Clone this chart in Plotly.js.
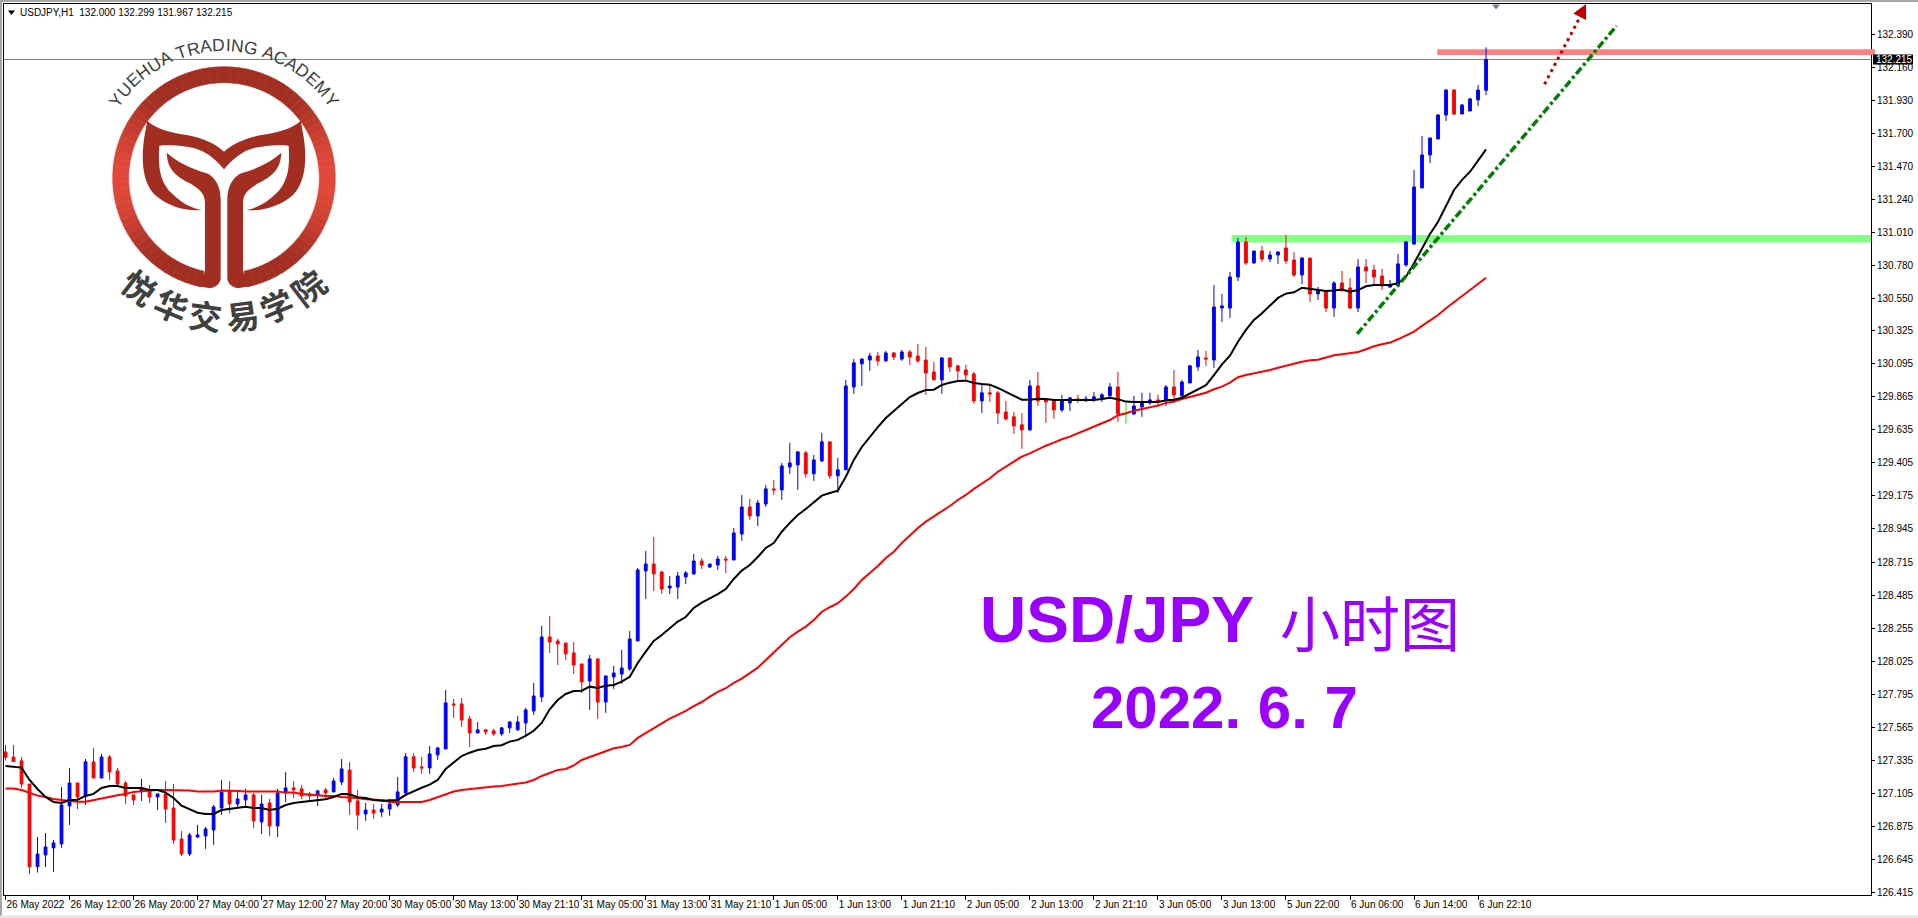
<!DOCTYPE html>
<html>
<head>
<meta charset="utf-8">
<title>USD/JPY H1</title>
<script src="https://cdn.plot.ly/plotly-3.0.1.min.js"></script>
<style>
  html, body { margin: 0; padding: 0; background: #fff; }
  #chart { width: 1918px; height: 918px; }
</style>
</head>
<body>
<div id="chart"></div>
<script>
/* ── Candles, 26 May - 6 Jun 2022, one per hour ─────────────────────── */
const openPrices = [
  127.392,127.357,127.330,127.169,126.594,126.675,126.724,126.752,127.016,127.176,
  127.086,127.323,127.211,127.357,127.260,127.176,127.093,127.114,127.128,127.079,
  127.100,127.002,126.786,126.682,126.800,126.807,126.849,127.002,127.121,127.030,
  127.058,127.093,126.905,127.037,126.877,127.107,127.142,127.135,127.100,127.093,
  127.128,127.114,127.183,127.267,127.051,126.960,126.988,126.974,126.995,127.023,
  127.107,127.358,127.288,127.281,127.372,127.413,127.727,127.727,127.622,127.525,
  127.546,127.539,127.518,127.560,127.546,127.594,127.678,127.775,128.193,128.165,
  128.151,128.082,128.005,127.887,128.040,127.740,127.915,127.935,127.970,128.165,
  128.653,128.701,128.646,128.534,128.541,128.611,128.632,128.722,128.680,128.694,
  128.736,128.729,128.910,129.098,129.036,129.119,129.224,129.217,129.377,129.391,
  129.475,129.329,129.419,129.552,129.315,129.357,129.934,130.095,130.122,130.150,
  130.116,130.171,130.129,130.178,130.150,130.122,130.039,129.983,130.136,130.081,
  130.053,130.025,129.837,129.893,129.893,129.760,129.726,129.670,129.635,129.941,
  129.844,129.837,129.774,129.823,129.851,129.837,129.844,129.858,129.872,129.934,
  129.746,129.746,129.795,129.823,129.844,129.837,129.934,129.872,129.962,130.074,
  130.136,130.122,130.484,130.484,130.700,130.944,130.798,130.881,130.825,130.853,
  130.902,130.818,130.714,130.832,130.582,130.603,130.484,130.658,130.624,130.484,
  130.770,130.749,130.707,130.630,130.644,130.784,130.930,131.320,131.550,131.661,
  131.828,132.002,131.835,131.856,131.933,132.000
];
const highPrices = [
  127.441,127.441,127.357,127.169,126.800,126.828,126.779,127.148,127.281,127.176,
  127.343,127.420,127.378,127.371,127.281,127.190,127.093,127.204,127.162,127.100,
  127.190,127.169,126.842,126.828,126.884,126.870,127.023,127.197,127.190,127.114,
  127.135,127.107,127.093,127.065,127.135,127.253,127.190,127.162,127.114,127.128,
  127.142,127.211,127.343,127.323,127.128,127.037,127.030,127.030,127.065,127.218,
  127.385,127.385,127.358,127.434,127.427,127.824,127.761,127.768,127.643,127.601,
  127.553,127.553,127.566,127.608,127.643,127.699,127.873,128.270,128.339,128.179,
  128.151,128.158,128.005,128.068,128.040,127.922,127.991,128.103,128.235,128.674,
  128.792,128.889,128.653,128.618,128.646,128.653,128.771,128.743,128.701,128.757,
  128.757,128.952,129.182,129.154,129.147,129.251,129.286,129.405,129.545,129.482,
  129.489,129.461,129.614,129.552,129.440,129.983,130.129,130.129,130.171,130.178,
  130.185,130.178,130.192,130.192,130.234,130.213,130.109,130.143,130.136,130.088,
  130.088,130.039,129.948,129.955,129.907,129.837,129.760,129.753,129.983,130.039,
  129.851,129.844,129.879,129.865,129.879,129.872,129.900,129.893,129.962,130.039,
  129.830,129.872,129.893,129.893,129.879,129.948,130.053,129.983,130.088,130.192,
  130.185,130.644,130.582,130.735,130.972,130.979,130.881,130.916,130.881,130.881,
  130.993,130.874,130.839,130.832,130.630,130.603,130.672,130.742,130.693,130.825,
  130.825,130.784,130.756,130.679,130.860,130.951,131.445,131.682,131.668,131.835,
  132.009,132.009,131.905,131.947,132.037,132.299
];
const lowPrices = [
  127.332,127.325,127.142,126.543,126.552,126.591,126.557,126.724,126.884,126.995,
  127.023,127.211,127.211,127.197,127.162,127.030,127.023,127.051,127.037,126.988,
  126.898,126.752,126.668,126.668,126.793,126.717,126.745,126.954,126.967,127.002,
  127.016,126.863,126.821,126.807,126.800,127.044,127.072,127.065,127.058,127.016,
  127.072,127.114,127.162,126.954,126.849,126.912,126.926,126.940,126.947,127.009,
  127.100,127.253,127.239,127.239,127.337,127.413,127.629,127.566,127.427,127.525,
  127.511,127.504,127.504,127.525,127.539,127.511,127.650,127.740,128.082,127.998,
  128.033,127.935,127.803,127.685,127.622,127.664,127.831,127.866,127.956,128.165,
  128.458,128.513,128.492,128.492,128.458,128.562,128.625,128.667,128.674,128.660,
  128.639,128.729,128.862,129.008,128.966,129.098,129.182,129.147,129.329,129.217,
  129.301,129.280,129.412,129.294,129.196,129.357,129.886,129.941,130.046,130.081,
  130.109,130.122,130.116,130.088,130.102,129.879,129.983,129.886,130.039,129.976,
  129.976,129.816,129.753,129.830,129.677,129.698,129.607,129.503,129.628,129.802,
  129.684,129.712,129.760,129.767,129.823,129.830,129.830,129.830,129.865,129.691,
  129.677,129.740,129.726,129.809,129.795,129.802,129.823,129.865,129.962,130.046,
  130.080,130.066,130.387,130.415,130.672,130.784,130.791,130.805,130.805,130.791,
  130.791,130.700,130.651,130.526,130.540,130.456,130.422,130.603,130.477,130.456,
  130.658,130.651,130.610,130.624,130.644,130.770,130.923,131.320,131.494,131.661,
  131.786,131.828,131.835,131.856,131.891,131.967
];
const closePrices = [
  127.355,127.325,127.169,126.594,126.682,126.731,126.759,127.023,127.176,127.079,
  127.323,127.211,127.357,127.253,127.169,127.086,127.058,127.142,127.079,127.100,
  126.995,126.779,126.682,126.814,126.814,126.856,127.009,127.114,127.030,127.065,
  127.093,126.912,127.030,126.877,127.107,127.142,127.128,127.086,127.086,127.121,
  127.107,127.190,127.274,127.044,126.954,126.988,126.967,126.995,127.030,127.114,
  127.358,127.281,127.281,127.378,127.420,127.734,127.720,127.615,127.525,127.546,
  127.532,127.518,127.560,127.601,127.601,127.685,127.782,128.193,128.158,128.144,
  128.075,127.998,127.880,128.040,127.740,127.922,127.942,127.977,128.179,128.660,
  128.701,128.632,128.527,128.548,128.618,128.639,128.722,128.694,128.701,128.736,
  128.729,128.917,129.098,129.036,129.126,129.224,129.217,129.384,129.405,129.482,
  129.329,129.426,129.552,129.315,129.357,129.941,130.102,130.129,130.150,130.116,
  130.171,130.143,130.178,130.143,130.116,130.032,129.983,130.136,130.074,130.046,
  130.018,129.837,129.893,129.886,129.753,129.712,129.663,129.635,129.941,129.837,
  129.830,129.774,129.844,129.858,129.844,129.851,129.865,129.879,129.934,129.746,
  129.746,129.802,129.823,129.844,129.830,129.934,129.879,129.969,130.081,130.143,
  130.129,130.491,130.498,130.700,130.944,130.798,130.881,130.825,130.853,130.874,
  130.812,130.714,130.832,130.582,130.603,130.484,130.658,130.603,130.484,130.770,
  130.742,130.700,130.637,130.644,130.791,130.944,131.327,131.550,131.668,131.828,
  132.002,131.835,131.898,131.940,132.002,132.215
];
const dojiBar = 140;   // the one lime candle, open == close

/* ── Moving averages, one value per bar ─────────────────────────────── */
const fastMa = [
  127.295,127.291,127.283,127.197,127.134,127.079,127.044,127.037,127.058,127.060,
  127.086,127.100,127.141,127.155,127.155,127.141,127.141,127.141,127.127,127.127,
  127.109,127.072,127.018,126.995,126.969,126.960,126.960,126.988,126.995,127.002,
  127.011,127.002,127.002,126.988,126.997,127.023,127.037,127.044,127.051,127.058,
  127.063,127.079,127.100,127.098,127.077,127.072,127.058,127.053,127.053,127.058,
  127.093,127.120,127.143,127.164,127.197,127.274,127.317,127.364,127.387,127.406,
  127.415,127.434,127.439,127.464,127.476,127.504,127.540,127.594,127.689,127.754,
  127.796,127.817,127.819,127.847,127.838,127.854,127.859,127.882,127.916,128.012,
  128.091,128.165,128.207,128.256,128.300,128.332,128.395,128.432,128.460,128.492,
  128.527,128.597,128.655,128.694,128.750,128.813,128.847,128.926,128.987,129.043,
  129.084,129.128,129.177,129.196,129.212,129.309,129.426,129.516,129.588,129.655,
  129.718,129.769,129.816,129.864,129.892,129.913,129.915,129.948,129.964,129.976,
  129.978,129.962,129.955,129.950,129.927,129.901,129.873,129.845,129.845,129.852,
  129.850,129.843,129.843,129.843,129.843,129.843,129.843,129.850,129.859,129.848,
  129.832,129.829,129.829,129.829,129.829,129.841,129.845,129.859,129.887,129.913,
  129.946,130.017,130.092,130.152,130.249,130.331,130.401,130.447,130.498,130.554,
  130.584,130.593,130.625,130.618,130.607,130.602,130.605,130.612,130.598,130.609,
  130.635,130.644,130.644,130.644,130.656,130.702,130.795,130.900,131.000,131.085,
  131.190,131.306,131.376,131.433,131.510,131.589
];
const slowMa = [
  127.137,127.137,127.127,127.107,127.088,127.079,127.065,127.058,127.051,127.046,
  127.046,127.058,127.065,127.077,127.091,127.100,127.114,127.118,127.123,127.127,
  127.127,127.127,127.127,127.123,127.116,127.116,127.116,127.123,127.123,127.121,
  127.116,127.116,127.116,127.116,127.116,127.109,127.109,127.100,127.093,127.091,
  127.086,127.086,127.079,127.077,127.072,127.063,127.063,127.058,127.044,127.044,
  127.044,127.044,127.044,127.058,127.079,127.100,127.117,127.127,127.134,127.141,
  127.145,127.152,127.155,127.162,127.173,127.180,127.197,127.225,127.246,127.267,
  127.274,127.298,127.336,127.357,127.373,127.394,127.418,127.427,127.441,127.490,
  127.524,127.552,127.587,127.624,127.650,127.678,127.712,127.740,127.777,127.810,
  127.836,127.873,127.903,127.942,127.979,128.033,128.086,128.132,128.191,128.230,
  128.265,128.311,128.369,128.400,128.428,128.474,128.527,128.590,128.639,128.687,
  128.743,128.787,128.847,128.903,128.952,128.996,129.031,129.066,129.105,129.147,
  129.182,129.224,129.263,129.298,129.344,129.379,129.414,129.449,129.472,129.500,
  129.525,129.546,129.570,129.588,129.612,129.634,129.662,129.681,129.704,129.737,
  129.751,129.769,129.781,129.793,129.804,129.823,129.832,129.850,129.866,129.878,
  129.894,129.918,129.936,129.964,130.002,130.017,130.029,130.038,130.052,130.068,
  130.080,130.096,130.110,130.120,130.124,130.138,130.155,130.162,130.169,130.178,
  130.197,130.217,130.231,130.243,130.266,130.291,130.319,130.359,130.394,130.435,
  130.482,130.524,130.570,130.614,130.656,130.695
];

/* ── Hand drawn objects, in bars and prices ─────────────────────────── */
const trendBars    = [168.9, 201.3];
const trendPrices  = [130.303, 132.448];
const arrowBars    = [192.3, 196.8];
const arrowPrices  = [132.042, 132.517];
const headBars     = [195.9, 197.5, 197.5];
const headPrices   = [132.534, 132.601, 132.489];
const resistZone   = [178.9, 132.286, 132.246];   // first bar, top, bottom
const supportZone  = [153.2, 130.993, 130.940];
const lastPrice    = 132.215;

/* ── Axis labels ────────────────────────────────────────────────────── */
const xTickBars = [0,8,16,24,32,40,48,56,64,72,80,88,96,104,112,120,128,136,144,152,160,168,176,184];
const xTickText = ['26 May 2022','26 May 12:00','26 May 20:00','27 May 04:00','27 May 12:00','27 May 20:00',
  '30 May 05:00','30 May 13:00','30 May 21:10','31 May 05:00','31 May 13:00','31 May 21:10',
  '1 Jun 05:00','1 Jun 13:00','1 Jun 21:10','2 Jun 05:00','2 Jun 13:00','2 Jun 21:10',
  '3 Jun 05:00','3 Jun 13:00','5 Jun 22:00','6 Jun 06:00','6 Jun 14:00','6 Jun 22:10'];
const yTicks = [126.415,126.645,126.875,127.105,127.335,127.565,127.795,128.025,128.255,128.485,128.715,
  128.945,129.175,129.405,129.635,129.865,130.095,130.325,130.550,130.780,131.010,131.240,131.470,131.700,
  131.930,132.160,132.390];

/* ── Design tokens ──────────────────────────────────────────────────── */
const COLORS = {
  up: '#0000FF', down: '#FF0000', doji: '#00FF00', fast: '#000000', slow: '#FF0000',
  trend: '#008000', arrow: '#C00000', bid: '#708090', purple: '#9900FF',
  pink: '#FF8080', green: '#80FF80', ringDark: [161, 46, 33], ringLight: [226, 72, 58], logoText: '#404040',
};
const AXIS_FONT = { family: 'Liberation Sans', size: 10, color: '#000' };
const W = 1918, H = 918;
const M = { l: 4, r: 47, t: 4, b: 23 };

// screen pixel -> paper fraction, only for the logo and window furniture
const fx = x => (x - M.l) / (W - M.l - M.r);
const fy = y => 1 - (y - M.t) / (H - M.t - M.b);

const allBars = openPrices.map((_, i) => i);
const mainBars = allBars.filter(i => i !== dojiBar);

const traces = [
  {
    type: 'candlestick',
    x: mainBars,
    open: mainBars.map(i => openPrices[i]),
    high: mainBars.map(i => highPrices[i]),
    low: mainBars.map(i => lowPrices[i]),
    close: mainBars.map(i => closePrices[i]),
    whiskerwidth: 0,
    increasing: { line: { color: COLORS.up, width: 1 }, fillcolor: COLORS.up },
    decreasing: { line: { color: COLORS.down, width: 1 }, fillcolor: COLORS.down },
  },
  {
    type: 'candlestick',
    x: [dojiBar],
    open: [openPrices[dojiBar]],
    high: [highPrices[dojiBar]],
    low: [lowPrices[dojiBar]],
    close: [closePrices[dojiBar]],
    whiskerwidth: 0,
    increasing: { line: { color: COLORS.doji, width: 1 }, fillcolor: COLORS.doji },
    decreasing: { line: { color: COLORS.doji, width: 1 }, fillcolor: COLORS.doji },
  },
  { type: 'scatter', mode: 'lines', x: allBars, y: slowMa, line: { color: COLORS.slow, width: 2 } },
  { type: 'scatter', mode: 'lines', x: allBars, y: fastMa, line: { color: COLORS.fast, width: 2 } },
  { type: 'scatter', mode: 'lines', x: trendBars, y: trendPrices,
    line: { color: COLORS.trend, width: 3.5, dash: '8px,3px,3px,3px' } },
  { type: 'scatter', mode: 'lines', x: arrowBars, y: arrowPrices,
    line: { color: COLORS.arrow, width: 3, dash: '3px,4px' } },
  { type: 'scatter', mode: 'lines', x: headBars, y: headPrices, fill: 'toself',
    fillcolor: COLORS.arrow, line: { color: COLORS.arrow, width: 0 } },
];

/* ── Logo, drawn from the crop in 3x units ──────────────────────────── */
const LOGO = { x0: 90, y0: 30, cx: 402, cy: 444, rOut: 334, rIn: 286 };
function zPoint(x, y, mirror) {
  const zx = mirror ? 2 * LOGO.cx - x : x;
  return fx(LOGO.x0 + zx / 3).toFixed(5) + ',' + fy(LOGO.y0 + y / 3).toFixed(5);
}
// c is a list of commands: ['M',x,y] ['L',x,y] ['C',x1,y1,x2,y2,x,y] ['Z']
function zPath(c, mirror) {
  return c.map(s => {
    if (s[0] === 'Z') return 'Z';
    const pts = [];
    for (let i = 1; i < s.length; i += 2) pts.push(zPoint(s[i], s[i + 1], mirror));
    return s[0] + pts.join(' ');
  }).join(' ');
}
const tailPath = [
  ['M',172,272], ['C',200,300,250,308,290,315], ['C',340,325,375,340,402,365], ['L',402,418],
  ['C',375,385,340,355,290,350], ['C',260,346,230,345,208,347], ['C',205,400,205,450,245,490],
  ['C',275,520,305,535,335,540], ['C',290,545,235,530,195,495], ['C',160,460,155,400,160,345],
  ['C',162,320,168,295,172,272], ['Z'],
];
const stemPath = [
  ['M',230,368], ['C',260,395,300,415,350,430], ['C',375,440,392,470,392,510], ['L',392,745],
  ['C',392,760,378,772,360,775], ['L',322,768], ['L',345,725], ['L',345,520],
  ['C',345,490,330,480,300,460], ['C',260,440,232,420,230,368], ['Z'],
];
function ringShapes() {
  const out = [];
  const step = 4;
  const ringPoint = (r, a) => {
    const t = a * Math.PI / 180;
    return [LOGO.cx + r * Math.sin(t), LOGO.cy - r * Math.cos(t)];
  };
  for (let a = -168; a < 168; a += step) {
    const mid = Math.abs(Math.sin((a + step / 2) * Math.PI / 180));
    const k = Math.max(0, (mid - 0.55) / 0.45);
    const rgb = COLORS.ringDark.map((v, i) => Math.round(v + (COLORS.ringLight[i] - v) * k * k));
    const col = `rgb(${rgb.join(',')})`;
    const [x1, y1] = ringPoint(LOGO.rOut, a);
    const [x2, y2] = ringPoint(LOGO.rOut, a + step);
    const [x3, y3] = ringPoint(LOGO.rIn, a + step);
    const [x4, y4] = ringPoint(LOGO.rIn, a);
    out.push({
      type: 'path', xref: 'paper', yref: 'paper', fillcolor: col,
      line: { color: col, width: 0.6 },
      path: zPath([['M',x1,y1], ['L',x2,y2], ['L',x3,y3], ['L',x4,y4], ['Z']]),
    });
  }
  return out;
}
const logoShapes = ringShapes();
[false, true].forEach(mirror => {
  [tailPath, stemPath].forEach(p => {
    logoShapes.push({
      type: 'path', xref: 'paper', yref: 'paper', fillcolor: 'rgb(161,46,33)',
      line: { width: 0 }, path: zPath(p, mirror),
    });
  });
});

/* ── Logo lettering, one annotation per character along the arc ─────── */
const CAP_WIDTHS = { Y:.667,U:.722,E:.667,H:.722,A:.667,' ':.278,T:.611,R:.722,D:.722,I:.278,N:.722,G:.778,C:.722,M:.833 };
function arcTextTop(text, size, radius) {
  const cx = 224, cy = 178, spacing = 1.06;
  const total = [...text].reduce((s, ch) => s + CAP_WIDTHS[ch] * size * spacing, 0);
  const out = [];
  let run = 0;
  [...text].forEach(ch => {
    const w = CAP_WIDTHS[ch] * size * spacing;
    const a = (run + w / 2 - total / 2) / radius;
    run += w;
    if (ch === ' ') return;
    out.push({
      xref: 'paper', yref: 'paper', xanchor: 'center', yanchor: 'middle', showarrow: false,
      x: fx(cx + radius * Math.sin(a)), y: fy(cy - radius * Math.cos(a)),
      text: ch, textangle: a * 180 / Math.PI,
      font: { family: 'Liberation Sans', size, color: COLORS.logoText },
    });
  });
  return out;
}
function arcTextBottom(text, size, radius, stepDeg) {
  const cx = 224, cy = 178;
  return [...text].map((ch, i) => {
    const d = (i - (text.length - 1) / 2) * stepDeg;
    const a = d * Math.PI / 180;
    return {
      xref: 'paper', yref: 'paper', xanchor: 'center', yanchor: 'middle', showarrow: false,
      x: fx(cx + radius * Math.sin(a)), y: fy(cy + radius * Math.cos(a)),
      text: '<b>' + ch + '</b>', textangle: -d,
      font: { family: 'Noto Sans CJK SC', size, color: COLORS.logoText },
    };
  });
}

/* ── Frame and zones ────────────────────────────────────────────────── */
const shapes = [
  { type: 'rect', xref: 'x', yref: 'y', layer: 'below', x0: supportZone[0], x1: 233.1, y0: supportZone[1], y1: supportZone[2],
    fillcolor: COLORS.green, line: { width: 0 } },
  { type: 'rect', xref: 'x', yref: 'y', layer: 'below', x0: resistZone[0], x1: 233.1, y0: resistZone[1], y1: resistZone[2],
    fillcolor: COLORS.pink, line: { width: 0 } },
  { type: 'rect', xref: 'paper', yref: 'y', x0: 1, x1: fx(1875), y0: resistZone[1], y1: resistZone[2],
    fillcolor: COLORS.pink, line: { width: 0 } },
  { type: 'line', xref: 'paper', yref: 'y', x0: 0, x1: 1, y0: lastPrice, y1: lastPrice, layer: 'below',
    line: { color: COLORS.bid, width: 1 } },
  // price tag on the axis
  { type: 'rect', xref: 'paper', yref: 'paper', x0: fx(1873), x1: fx(1913), y0: fy(64.5), y1: fy(54.5),
    fillcolor: '#000', line: { width: 0 } },
  // little triangles: series marker and the shift marker at the top
  { type: 'path', xref: 'paper', yref: 'paper', fillcolor: '#000', line: { width: 0 },
    path: `M${fx(8)},${fy(10.5)} L${fx(15)},${fy(10.5)} L${fx(11.5)},${fy(15)} Z` },
  { type: 'path', xref: 'paper', yref: 'paper', fillcolor: COLORS.bid, line: { width: 0 },
    path: `M${fx(1492)},${fy(4.5)} L${fx(1500)},${fy(4.5)} L${fx(1496)},${fy(9.5)} Z` },
  // window edges
  { type: 'rect', xref: 'paper', yref: 'paper', x0: fx(0), x1: fx(2), y0: fy(0), y1: fy(918), fillcolor: '#A6A6A6', line: { width: 0 } },
  { type: 'rect', xref: 'paper', yref: 'paper', x0: fx(0), x1: fx(1918), y0: fy(0), y1: fy(2), fillcolor: '#A6A6A6', line: { width: 0 } },
  { type: 'rect', xref: 'paper', yref: 'paper', x0: fx(0), x1: fx(1918), y0: fy(915.5), y1: fy(918), fillcolor: '#E3E3E3', line: { width: 0 } },
].concat(logoShapes);

const purpleText = (text, x, y, anchor, size, family) => ({
  xref: 'paper', yref: 'paper', xanchor: anchor, yanchor: 'middle', showarrow: false,
  x: fx(x), y: fy(y), text: text,
  font: { family: family, size: size, color: COLORS.purple },
});

const annotations = [
  { xref: 'paper', yref: 'paper', xanchor: 'left', yanchor: 'middle', showarrow: false,
    x: fx(19), y: fy(12.5), text: 'USDJPY,H1&nbsp;&nbsp;132.000 132.299 131.967 132.215', font: AXIS_FONT, borderpad: 0 },
  { xref: 'paper', yref: 'y', xanchor: 'left', yanchor: 'middle', showarrow: false, borderpad: 0,
    x: fx(1875), y: lastPrice, text: '132.215', font: Object.assign({}, AXIS_FONT, { color: '#fff' }) },
  purpleText('<b>USD/JPY</b>', 978, 620, 'left', 64, 'Liberation Sans'),
  purpleText('小时图', 1278, 620, 'left', 60, 'Noto Sans CJK SC'),
  purpleText('<b>2022. 6. 7</b>', 1089, 707, 'left', 60, 'Liberation Sans'),
].concat(arcTextTop('YUEHUA TRADING ACADEMY', 17.5, 133), arcTextBottom('悦华交易学院', 33, 138, 15));

const layout = {
  width: W,
  height: H,
  margin: { l: M.l, r: M.r, t: M.t, b: M.b, pad: 0 },
  paper_bgcolor: '#fff',
  plot_bgcolor: '#fff',
  showlegend: false,
  hovermode: false,
  boxgap: 0.5,
  xaxis: {
    type: 'linear',
    range: [-0.1875, 233.1],
    rangeslider: { visible: false },
    tickmode: 'array',
    tickvals: xTickBars,
    ticktext: xTickText,
    tickangle: 0,
    ticks: 'outside',
    ticklen: 4,
    tickcolor: '#000',
    ticklabelposition: 'outside right',
    ticklabeloverflow: 'allow',
    tickfont: AXIS_FONT,
    showgrid: false,
    zeroline: false,
    showline: true,
    linecolor: '#000',
    linewidth: 1,
    mirror: true,
  },
  yaxis: {
    side: 'right',
    range: [126.396, 132.601],
    tickmode: 'array',
    tickvals: yTicks,
    ticktext: yTicks.map(v => v.toFixed(3)),
    ticks: 'outside',
    ticklen: 3,
    tickcolor: '#000',
    tickfont: AXIS_FONT,
    showgrid: false,
    zeroline: false,
    showline: true,
    linecolor: '#000',
    linewidth: 1,
    mirror: true,
  },
  shapes: shapes,
  annotations: annotations,
};

Plotly.newPlot('chart', traces, layout, { displayModeBar: false, staticPlot: true });
</script>
</body>
</html>
